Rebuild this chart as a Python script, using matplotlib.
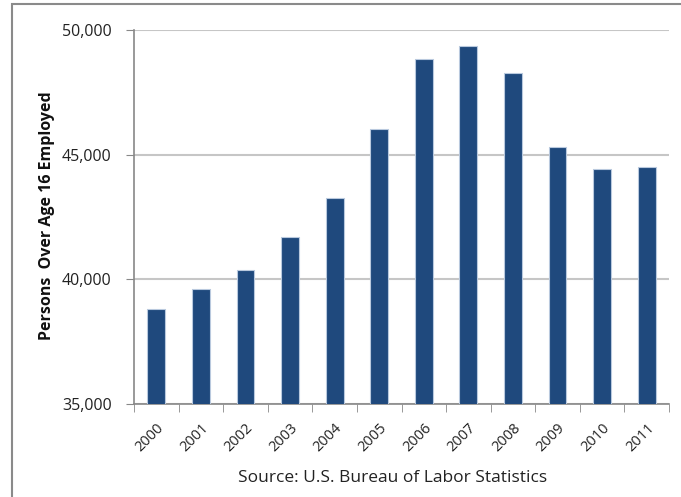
import numpy as np
from matplotlib import pyplot as plt
from matplotlib.patches import Rectangle

years = ["2000", "2001", "2002", "2003", "2004", "2005",
         "2006", "2007", "2008", "2009", "2010", "2011"]
employed = [38795, 39600, 40373, 41715, 43253, 46044,
            48843, 49378, 48293, 45309, 44438, 44518]
y_ticks = [35000, 40000, 45000, 50000]

plt.rcParams["font.family"] = ["Open Sans", "DejaVu Sans"]

fig = plt.figure(figsize=(6.81, 4.97), dpi=100)
ax = fig.add_axes([134 / 681, 1 - 404 / 497, 535 / 681, 374 / 497])

x = np.arange(len(years))
ax.bar(x, employed, width=0.4, color="#1F497D", edgecolor="#b9c9de",
       linewidth=0.8, zorder=3)

ax.set_xlim(-0.5, len(years) - 0.5)
ax.set_ylim(35000, 50000)
ax.set_yticks(y_ticks)
ax.set_yticklabels([f"{v:,}" for v in y_ticks])
ax.yaxis.grid(True, color="#c6c6c6", linewidth=1.5, zorder=0)
ax.tick_params(axis="y", length=6, color="#888888", labelsize=11.5,
               labelcolor="#222222", pad=10)

ax.set_xticks(x)
ax.set_xticklabels(years, rotation=45, ha="right", va="top",
                   rotation_mode="anchor")
ax.set_xticks(np.arange(-0.5, len(years)), minor=True)
ax.tick_params(axis="x", which="major", length=0, labelsize=10.5,
               labelcolor="#222222", pad=12)
ax.tick_params(axis="x", which="minor", length=6, color="#888888")

for side in ["top", "right"]:
    ax.spines[side].set_visible(False)
for side in ["left", "bottom"]:
    ax.spines[side].set_color("#888888")
    ax.spines[side].set_linewidth(1.2)

ax.set_ylabel("Persons  Over Age 16 Employed", fontsize=11.5,
              fontweight="bold", color="#111111")
ax.yaxis.set_label_coords(-0.163, 0.5)
ax.yaxis.label.set_va("center")
ax.yaxis.label.set_position((47 / 681, 1 - 216 / 497))
ax.yaxis.label.set_transform(fig.transFigure)

fig.text(393 / 681, 1 - 478 / 497, "Source: U.S. Bureau of Labor Statistics",
         ha="center", va="center", fontsize=12.5, color="#222222")

# outer chart frame, cut off at right and bottom
fig.patches.append(Rectangle((12 / 681, -0.1), 1.2, 1.1 - 4 / 497,
                             transform=fig.transFigure, fill=False,
                             edgecolor="#8a8a8a", linewidth=1.5))

fig.savefig("out.png", dpi=100)
